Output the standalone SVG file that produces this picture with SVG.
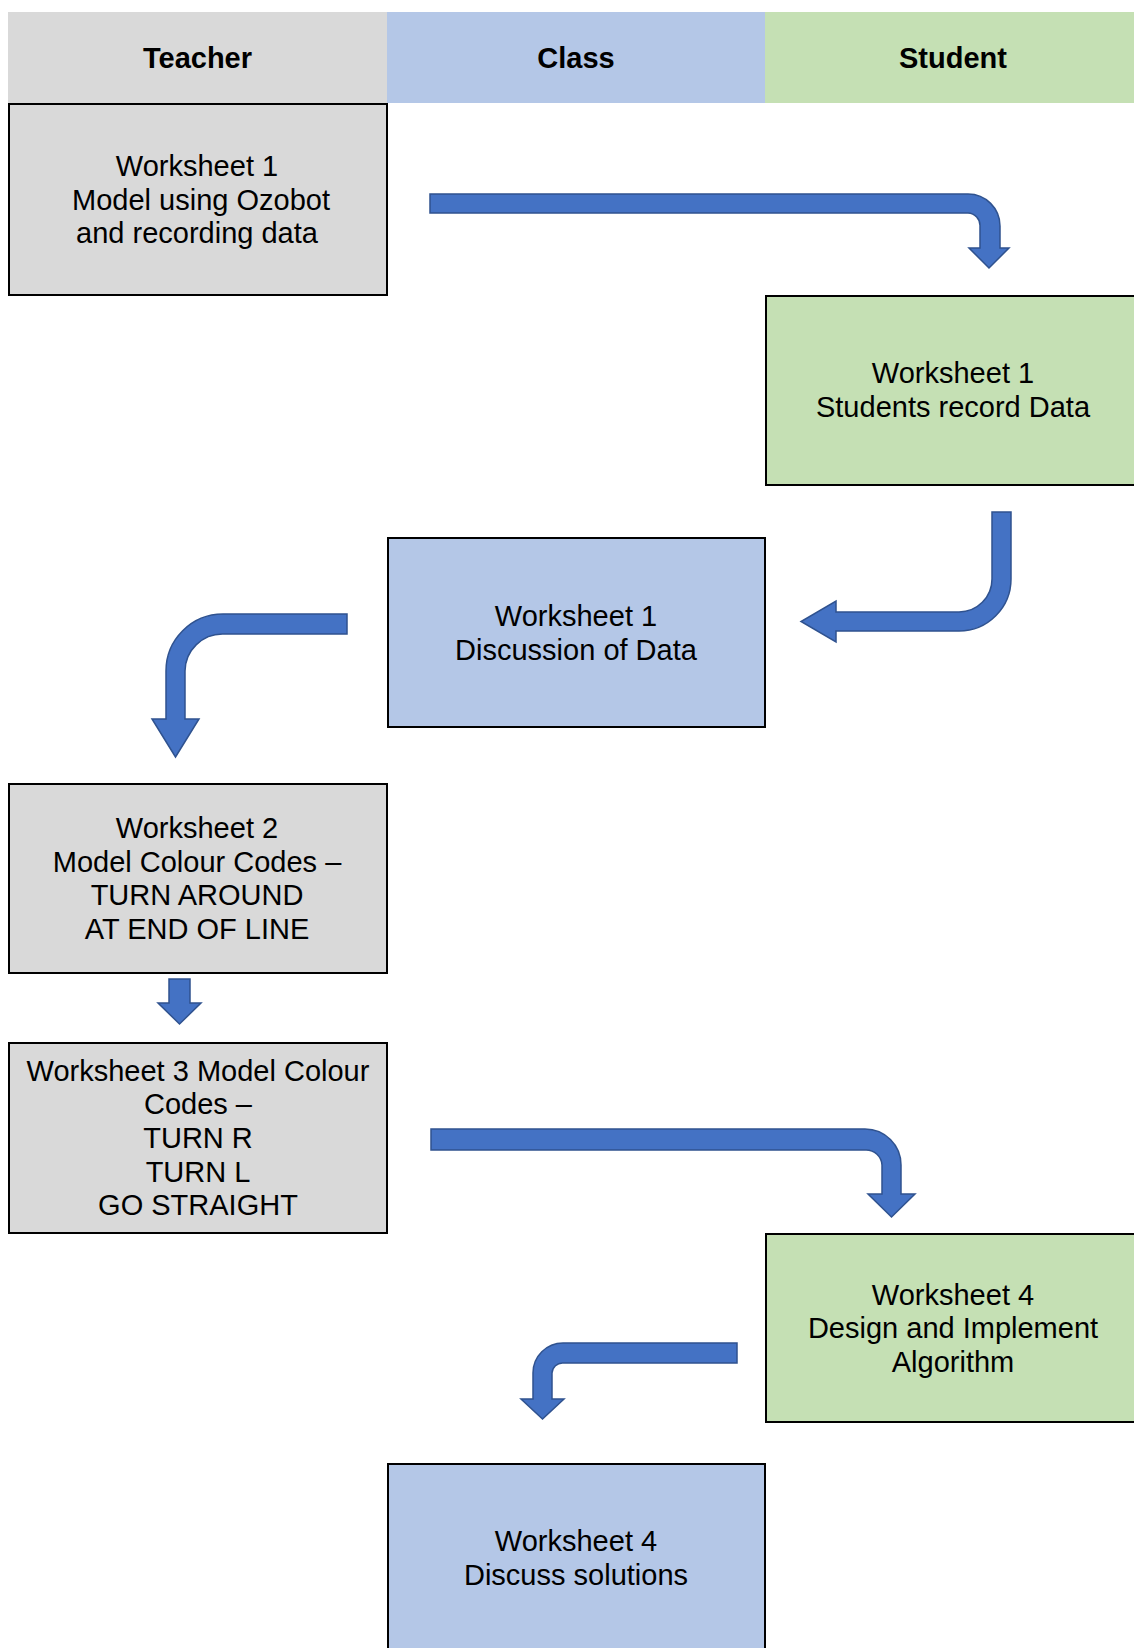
<svg xmlns="http://www.w3.org/2000/svg" width="1134" height="1648" viewBox="0 0 1134 1648">
<style>
text{font-family:"Liberation Sans",Arial,sans-serif;font-size:29px;fill:#000;text-anchor:middle}
.h{font-weight:bold}
.t{fill:#D9D9D9}.c{fill:#B4C7E7}.s{fill:#C5E0B4}
.box{stroke:#000;stroke-width:2}
.arr{fill:#4472C4;stroke:#2F528F;stroke-width:1.5;stroke-linejoin:miter}
</style>
<rect width="1134" height="1648" fill="#fff"/>
<g id="header">
<rect class="t" x="8" y="12" width="379" height="91"/>
<rect class="c" x="387" y="12" width="378" height="91"/>
<rect class="s" x="765" y="12" width="369" height="91"/>
<text class="h" x="197.5" y="68">Teacher</text>
<text class="h" x="576" y="68">Class</text>
<text class="h" x="953" y="68">Student</text>
</g>
<g id="teacher1">
<rect class="t box" x="9" y="104" width="378" height="191"/>
<text x="197" y="176">Worksheet 1</text>
<text x="201" y="210">Model using Ozobot</text>
<text x="197" y="243">and recording data</text>
</g>
<g id="student1">
<rect class="s box" x="766" y="296" width="380" height="189"/>
<text x="953" y="383">Worksheet 1</text>
<text x="953" y="417">Students record Data</text>
</g>
<g id="class1">
<rect class="c box" x="388" y="538" width="377" height="189"/>
<text x="576" y="626">Worksheet 1</text>
<text x="576" y="660">Discussion of Data</text>
</g>
<g id="teacher2">
<rect class="t box" x="9" y="784" width="378" height="189"/>
<text x="197" y="838">Worksheet 2</text>
<text x="197" y="872">Model Colour Codes –</text>
<text x="197" y="905">TURN AROUND</text>
<text x="197" y="939">AT END OF LINE</text>
</g>
<g id="teacher3">
<rect class="t box" x="9" y="1043" width="378" height="190"/>
<text x="198" y="1081">Worksheet 3 Model Colour</text>
<text x="198" y="1114">Codes –</text>
<text x="198" y="1148">TURN R</text>
<text x="198" y="1182">TURN L</text>
<text x="198" y="1215">GO STRAIGHT</text>
</g>
<g id="student2">
<rect class="s box" x="766" y="1234" width="380" height="188"/>
<text x="953" y="1305">Worksheet 4</text>
<text x="953" y="1338">Design and Implement</text>
<text x="953" y="1372">Algorithm</text>
</g>
<g id="class2">
<rect class="c box" x="388" y="1464" width="377" height="200"/>
<text x="576" y="1551">Worksheet 4</text>
<text x="576" y="1585">Discuss solutions</text>
</g>
<g id="connectors">
<path class="arr" d="M430,194 H968 A32,32 0 0 1 1000,226 V248 H1009 L989,268 L969,248 H980 V226 A12.5,12.5 0 0 0 968,213 H430 Z"/>
<path class="arr" d="M992,512 H1011 V579 A52,52 0 0 1 959,631 H836 V642 L801,621.5 L836,601 V612 H959 A33,33 0 0 0 992,579 Z"/>
<path class="arr" d="M347,614 V634 H223 A37.5,37.5 0 0 0 185,671 V719 H199 L175.5,757 L152,719 H166 V671 A57,57 0 0 1 223,614 Z"/>
<path class="arr" d="M169,979 H190 V1003 H201 L179.5,1024 L158,1003 H169 Z"/>
<path class="arr" d="M431,1129 H865 A36,36 0 0 1 901,1165 V1194 H915 L891.5,1217 L868,1194 H882 V1165 A16,16 0 0 0 866,1150 H431 Z"/>
<path class="arr" d="M737,1343 V1363 H563 A10.5,10.5 0 0 0 552,1373 V1399 H564 L542.5,1419 L521,1399 H533 V1373 A30,30 0 0 1 563,1343 Z"/>
</g>
</svg>
